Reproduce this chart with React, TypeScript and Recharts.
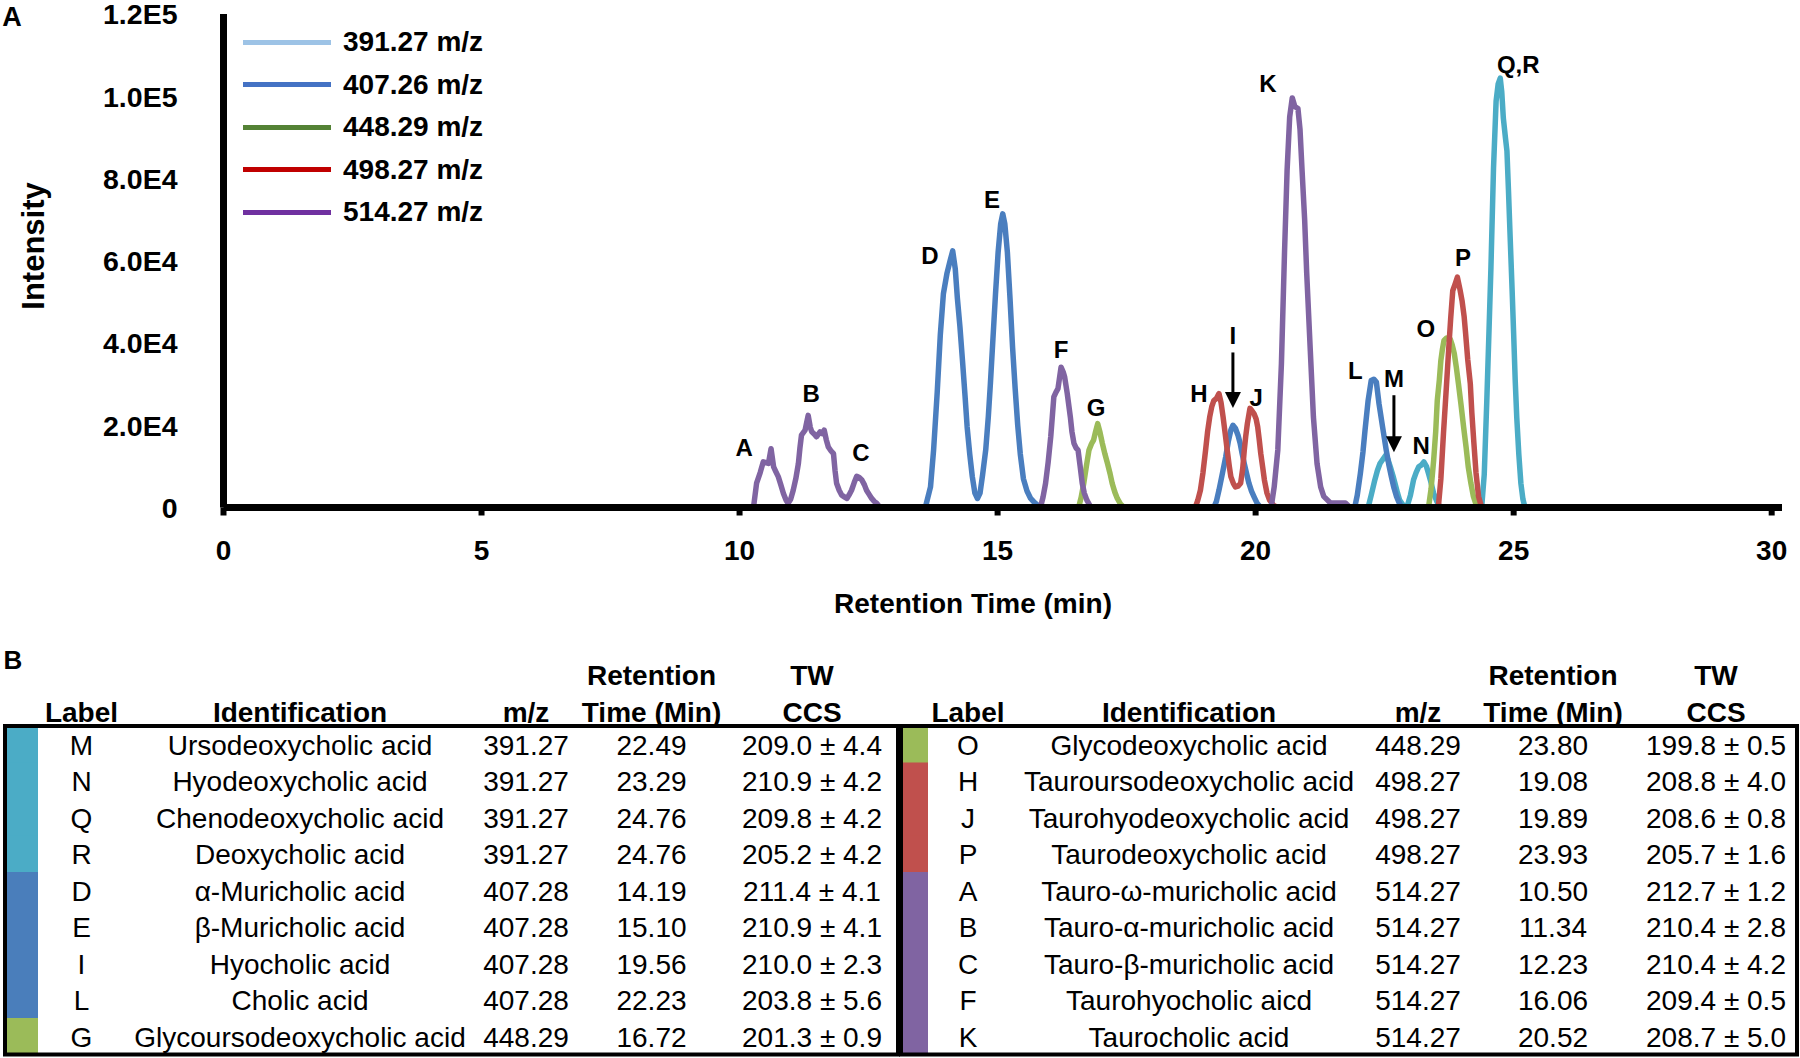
import React from 'react';
import { LineChart, Line, XAxis, YAxis, Legend, ReferenceDot, ReferenceLine } from 'recharts';

const FONT = "'Liberation Sans', Arial, Helvetica, sans-serif";

// ---------- Series meta ----------
const SERIES_NAMES = ['391.27 m/z', '407.26 m/z', '448.29 m/z', '498.27 m/z', '514.27 m/z'];
const LEGEND_COLORS = ['#9DC3E6', '#4472C4', '#548235', '#C00000', '#7030A0'];
const TRACE_COLORS = ['#4BACC6', '#4A7EBF', '#9BBB59', '#C0504D', '#8064A2'];

// ---------- Axis ticks ----------
const X_TICKS = [0, 5, 10, 15, 20, 25, 30];
const Y_TICKS = [0, 20000, 40000, 60000, 80000, 100000, 120000];
const Y_TICK_LABELS = ['0', '2.0E4', '4.0E4', '6.0E4', '8.0E4', '1.0E5', '1.2E5'];

// ---------- Traces: [retention time (min), intensity]; null = gap ----------
const TRACE_391: [number, number | null][] = [
  [22.18, 0], [22.24, 3000], [22.31, 6700], [22.36, 9000], [22.41, 10700], [22.47, 11800], [22.52, 12700],
  [22.56, 11800], [22.61, 9900], [22.66, 7800], [22.70, 5900], [22.75, 3500], [22.79, 1800], [22.89, 0],
  [22.91, null],
  [22.93, 0], [23.00, 3000], [23.06, 6700], [23.11, 8500], [23.16, 9900], [23.21, 10300], [23.26, 11100],
  [23.31, 10000], [23.35, 8300], [23.40, 6000], [23.45, 3400], [23.51, 1500], [23.58, 0],
  [24.0, null],
  [24.38, 0], [24.43, 8000], [24.48, 26000], [24.52, 42000], [24.56, 58400], [24.61, 82600], [24.66, 98800],
  [24.70, 103000], [24.74, 104400], [24.77, 101000], [24.80, 94700], [24.84, 90000], [24.87, 86700],
  [24.90, 77000], [24.93, 66500], [24.97, 53000], [25.00, 42200], [25.03, 31000], [25.06, 22000],
  [25.10, 13000], [25.14, 5900], [25.18, 2000], [25.22, 0],
];

const TRACE_407: [number, number | null][] = [
  [13.60, 0], [13.70, 5000], [13.76, 14000], [13.83, 28000], [13.89, 42000], [13.95, 52000], [14.02, 57000],
  [14.08, 60000], [14.13, 62400], [14.18, 58000], [14.22, 51000], [14.27, 44000], [14.32, 35700],
  [14.37, 27000], [14.41, 19600], [14.46, 13000], [14.51, 7500], [14.56, 3500], [14.61, 2200], [14.66, 3500],
  [14.71, 8000], [14.77, 14000], [14.82, 22000], [14.86, 30000], [14.91, 41000], [14.96, 52000],
  [15.01, 62000], [15.06, 69000], [15.10, 71400], [15.14, 69000], [15.19, 62000], [15.24, 51000],
  [15.29, 39000], [15.34, 29000], [15.39, 20000], [15.44, 13000], [15.50, 7000], [15.57, 4000],
  [15.64, 2200], [15.70, 1400], [15.83, 0],
  [16.5, null],
  [19.19, 0], [19.24, 1500], [19.29, 4200], [19.36, 8500], [19.42, 12300], [19.47, 16000], [19.52, 18800],
  [19.56, 20000], [19.61, 19200], [19.66, 17500], [19.70, 15600], [19.74, 13000], [19.78, 10700],
  [19.83, 8000], [19.87, 5900], [19.92, 4000], [19.97, 2600], [20.03, 1000], [20.10, 0],
  [21.0, null],
  [21.92, 0], [21.97, 3000], [22.03, 8300], [22.08, 13500], [22.12, 18800], [22.18, 26000], [22.24, 30900],
  [22.29, 31200], [22.34, 30500], [22.39, 25300], [22.46, 19600], [22.53, 14000], [22.58, 10500],
  [22.63, 7500], [22.68, 4800], [22.73, 2700], [22.78, 1200], [22.83, 0],
];

const TRACE_448: [number, number | null][] = [
  [16.57, 0], [16.62, 2500], [16.67, 5900], [16.72, 10000], [16.77, 13900], [16.82, 15500], [16.86, 16400],
  [16.90, 18500], [16.94, 20400], [16.98, 18500], [17.03, 15600], [17.08, 13000], [17.13, 10700],
  [17.18, 8200], [17.22, 5900], [17.27, 3800], [17.32, 2200], [17.38, 900], [17.45, 0],
  [20.0, null],
  [23.35, 0], [23.40, 4500], [23.45, 11500], [23.49, 18500], [23.52, 26000], [23.56, 31000], [23.59, 35800],
  [23.62, 38500], [23.65, 40600], [23.70, 41200], [23.74, 41000], [23.77, 41000], [23.81, 39500],
  [23.85, 37400], [23.89, 34000], [23.93, 30100], [23.98, 25000], [24.03, 19600], [24.08, 14500],
  [24.12, 9900], [24.17, 6000], [24.22, 2700], [24.29, 0],
];

const TRACE_498: [number, number | null][] = [
  [18.83, 0], [18.88, 1800], [18.93, 4200], [18.98, 8500], [19.03, 13900], [19.07, 18500], [19.11, 22000],
  [19.15, 24500], [19.19, 26000], [19.24, 26500], [19.29, 27700], [19.33, 25500], [19.37, 22000],
  [19.41, 18000], [19.45, 13900], [19.49, 10000], [19.52, 7500], [19.57, 5800], [19.61, 5000], [19.66, 5200],
  [19.71, 5900], [19.75, 9500], [19.78, 13900], [19.81, 17500], [19.84, 20400], [19.89, 24100],
  [19.93, 23500], [19.97, 22800], [20.01, 21500], [20.04, 19600], [20.07, 16500], [20.10, 13100],
  [20.14, 9500], [20.17, 6700], [20.22, 3500], [20.27, 1800], [20.35, 500], [20.43, 0],
  [22.0, null],
  [23.54, 0], [23.59, 7000], [23.64, 18000], [23.69, 28000], [23.74, 38200], [23.78, 46000], [23.82, 52700],
  [23.87, 54500], [23.91, 56000], [23.96, 53000], [24.00, 50300], [24.04, 46500], [24.07, 42200],
  [24.11, 36000], [24.16, 30100], [24.19, 23000], [24.23, 15600], [24.27, 8500], [24.32, 2700], [24.38, 0],
];

const TRACE_514: [number, number | null][] = [
  [10.27, 0], [10.33, 5900], [10.40, 8500], [10.46, 11100], [10.51, 10900], [10.56, 10700], [10.61, 14300],
  [10.66, 9900], [10.70, 8800], [10.75, 7500], [10.80, 5500], [10.85, 3400], [10.90, 1800], [10.94, 1000],
  [10.99, 2000], [11.04, 4200], [11.09, 7000], [11.14, 10700], [11.17, 14500], [11.20, 17600],
  [11.27, 18800], [11.33, 22400], [11.37, 19500], [11.40, 18400], [11.45, 17800], [11.49, 17200],
  [11.56, 18400], [11.60, 18000], [11.64, 18800], [11.68, 16500], [11.72, 14700], [11.77, 13800],
  [11.82, 13100], [11.85, 9000], [11.88, 5900], [11.93, 4200], [11.98, 3000], [12.03, 2600], [12.08, 2200],
  [12.12, 3000], [12.17, 4200], [12.22, 6000], [12.27, 7600], [12.32, 7300], [12.37, 6700], [12.42, 5500],
  [12.46, 4200], [12.51, 3200], [12.56, 2200], [12.61, 1500], [12.66, 1000], [12.72, 0],
  [14.0, null],
  [15.83, 0], [15.88, 2500], [15.93, 5900], [15.98, 11000], [16.03, 17200], [16.06, 22000], [16.09, 26900],
  [16.13, 28000], [16.17, 28900], [16.20, 31500], [16.23, 34100], [16.27, 33000], [16.30, 31700],
  [16.35, 27700], [16.41, 22000], [16.44, 18500], [16.48, 15600], [16.52, 14500], [16.56, 13900],
  [16.60, 10000], [16.64, 5900], [16.68, 3500], [16.73, 1800], [16.81, 0],
  [18.0, null],
  [20.30, 0], [20.36, 5000], [20.43, 14000], [20.50, 35000], [20.56, 62000], [20.61, 82000], [20.66, 95000],
  [20.71, 99600], [20.76, 97500], [20.82, 97000], [20.86, 92000], [20.90, 82000], [20.95, 70000],
  [20.99, 57000], [21.06, 38000], [21.12, 22000], [21.19, 10700], [21.26, 5000], [21.32, 2700],
  [21.45, 1100], [21.74, 1100], [21.83, 0],
];

const TRACES = [TRACE_391, TRACE_407, TRACE_448, TRACE_498, TRACE_514];

// ---------- Peak annotations (data units) ----------
const PEAK_LABELS = ['A', 'B', 'C', 'D', 'E', 'F', 'G', 'H', 'I', 'J', 'K', 'L', 'M', 'N', 'O', 'P', 'Q,R'];
const PEAK_LABEL_T = [10.09, 11.39, 12.35, 13.69, 14.89, 16.23, 16.91, 18.90, 19.56, 20.01, 20.24, 21.93, 22.68, 23.21, 23.30, 24.02, 25.09];
const PEAK_LABEL_I = [14670, 27760, 13450, 61200, 75030, 38420, 24360, 27760, 41820, 26790, 103150, 33330, 31390, 15150, 43520, 60730, 107760];
const ARROW_T = [19.56, 22.68];
const ARROW_FROM = [37700, 27300];
const ARROW_TO = [24200, 13450];

// ---------- Table ----------
const TABLE_HEAD_1 = ['', '', '', 'Retention', 'TW'];
const TABLE_HEAD_2 = ['Label', 'Identification', 'm/z', 'Time (Min)', 'CCS'];
const TABLE_COLORS = ['#4BACC6', '#4A7EBB', '#9BBB59', '#C0504D', '#8064A2'];

const LEFT_LABELS = ['M', 'N', 'Q', 'R', 'D', 'E', 'I', 'L', 'G'];
const LEFT_NAMES = ['Ursodeoxycholic acid', 'Hyodeoxycholic acid', 'Chenodeoxycholic acid', 'Deoxycholic acid', 'α-Muricholic acid', 'β-Muricholic acid', 'Hyocholic acid', 'Cholic acid', 'Glycoursodeoxycholic acid'];
const LEFT_MZ = ['391.27', '391.27', '391.27', '391.27', '407.28', '407.28', '407.28', '407.28', '448.29'];
const LEFT_RT = ['22.49', '23.29', '24.76', '24.76', '14.19', '15.10', '19.56', '22.23', '16.72'];
const LEFT_CCS = ['209.0 ± 4.4', '210.9 ± 4.2', '209.8 ± 4.2', '205.2 ± 4.2', '211.4 ± 4.1', '210.9 ± 4.1', '210.0 ± 2.3', '203.8 ± 5.6', '201.3 ± 0.9'];
const LEFT_GROUP = [0, 0, 0, 0, 1, 1, 1, 1, 2];

const RIGHT_LABELS = ['O', 'H', 'J', 'P', 'A', 'B', 'C', 'F', 'K'];
const RIGHT_NAMES = ['Glycodeoxycholic acid', 'Tauroursodeoxycholic acid', 'Taurohyodeoxycholic acid', 'Taurodeoxycholic acid', 'Tauro-ω-muricholic acid', 'Tauro-α-muricholic acid', 'Tauro-β-muricholic acid', 'Taurohyocholic aicd', 'Taurocholic acid'];
const RIGHT_MZ = ['448.29', '498.27', '498.27', '498.27', '514.27', '514.27', '514.27', '514.27', '514.27'];
const RIGHT_RT = ['23.80', '19.08', '19.89', '23.93', '10.50', '11.34', '12.23', '16.06', '20.52'];
const RIGHT_CCS = ['199.8 ± 0.5', '208.8 ± 4.0', '208.6 ± 0.8', '205.7 ± 1.6', '212.7 ± 1.2', '210.4 ± 2.8', '210.4 ± 4.2', '209.4 ± 0.5', '208.7 ± 5.0'];
const RIGHT_GROUP = [2, 3, 3, 3, 4, 4, 4, 4, 4];

// ---------- Components ----------
const LegendBox = () => (
  <div style={{ fontFamily: FONT }}>
    {SERIES_NAMES.map((n, i) => (
      <div key={n} style={{ display: 'flex', alignItems: 'center', height: 42.5 }}>
        <div style={{ width: 88, height: 5, background: LEGEND_COLORS[i], marginRight: 12 }} />
        <span style={{ fontSize: 28, fontWeight: 700, color: '#000', lineHeight: '28px', whiteSpace: 'nowrap' }}>{n}</span>
      </div>
    ))}
  </div>
);

const PeakText = (text: string) => (props: any) => (
  <text x={props.cx} y={props.cy} dy="0.36em" textAnchor="middle" fontSize={24} fontWeight={700} fill="#000" fontFamily={FONT}>
    {text}
  </text>
);

// y tick label drawn at the library-computed position of (x=0, y=value), right-aligned left of the tick mark
const YTickText = (text: string) => (props: any) => (
  <text x={props.cx - 46} y={props.cy} dy="0.36em" textAnchor="end" fontSize={28.5} fontWeight={700} fill="#000" fontFamily={FONT}>
    {text}
  </text>
);

const ArrowHead = (props: any) => {
  const { cx, cy } = props;
  return <polygon points={`${cx - 8},${cy - 16} ${cx + 8},${cy - 16} ${cx},${cy}`} fill="#000" />;
};

type TableSpec = {
  x: number; w: number; stripeX: number; stripeW: number; cols: number[];
  labels: string[]; names: string[]; mz: string[]; rt: string[]; ccs: string[]; group: number[];
};

const TABLE_TOP = 726;
const ROW_H = 36.5;

const TableBlock = ({ spec }: { spec: TableSpec }) => {
  const rows = spec.labels.map((l, i) => [l, spec.names[i], spec.mz[i], spec.rt[i], spec.ccs[i]]);
  return (
    <g fontFamily={FONT}>
      {TABLE_HEAD_1.map((h, j) => h ? (
        <text key={'h1' + j} x={spec.cols[j]} y={685} textAnchor="middle" fontSize={28} fontWeight={700}>{h}</text>
      ) : null)}
      {TABLE_HEAD_2.map((h, j) => (
        <text key={'h2' + j} x={spec.cols[j]} y={722} textAnchor="middle" fontSize={28} fontWeight={700}>{h}</text>
      ))}
      {spec.group.map((g, i) => (
        <rect key={'s' + i} x={spec.stripeX} y={TABLE_TOP + i * ROW_H} width={spec.stripeW} height={ROW_H + 0.5} fill={TABLE_COLORS[g]} />
      ))}
      {rows.map((r, i) => r.map((c, j) => (
        <text key={'c' + i + '-' + j} x={spec.cols[j]} y={TABLE_TOP + ROW_H * (i + 0.5) + 10.5} textAnchor="middle" fontSize={28} fill="#000">{c}</text>
      )))}
      <rect x={spec.x} y={TABLE_TOP} width={spec.w} height={ROW_H * 9} fill="none" stroke="#000" strokeWidth={4} />
    </g>
  );
};

const LEFT_SPEC: TableSpec = {
  x: 5, w: 893, stripeX: 7, stripeW: 31, cols: [81.5, 300, 526, 651.5, 812],
  labels: LEFT_LABELS, names: LEFT_NAMES, mz: LEFT_MZ, rt: LEFT_RT, ccs: LEFT_CCS, group: LEFT_GROUP,
};
const RIGHT_SPEC: TableSpec = {
  x: 901, w: 896, stripeX: 903, stripeW: 25, cols: [968, 1189, 1418, 1553, 1716],
  labels: RIGHT_LABELS, names: RIGHT_NAMES, mz: RIGHT_MZ, rt: RIGHT_RT, ccs: RIGHT_CCS, group: RIGHT_GROUP,
};

export default function App() {
  const seriesData = TRACES.map(tr => tr.map(([t, v]) => ({ t, v })));
  return (
    <div style={{ position: 'absolute', left: 0, top: 0, width: 1800, height: 1058, background: '#fff', fontFamily: FONT, overflow: 'hidden' }}>
      <div style={{ position: 'absolute', left: 0, top: 0 }}>
        <LineChart width={1800} height={640} margin={{ top: 14, right: 18, left: 123.5, bottom: 72.5 }}>
          <XAxis
            dataKey="t" type="number" domain={[0, 30.2]} ticks={X_TICKS} interval={0} height={60}
            axisLine={{ stroke: '#000', strokeWidth: 7 }}
            tickLine={{ stroke: '#000', strokeWidth: 6 }} tickSize={8} tickMargin={25}
            tick={{ fill: '#000', fontSize: 28, fontWeight: 700, fontFamily: FONT }}
          />
          <YAxis
            type="number" domain={[0, 120000]} ticks={Y_TICKS} interval={0} width={100}
            axisLine={{ stroke: '#000', strokeWidth: 7 }}
            tickLine={{ stroke: '#000', strokeWidth: 3 }} tickSize={14} tick={false}
          />
          <Legend layout="vertical" align="center" verticalAlign="middle" wrapperStyle={{ left: 243, top: 21, width: 320 }} content={() => <LegendBox />} />
          {seriesData.map((d, i) => (
            <Line
              key={SERIES_NAMES[i]} name={SERIES_NAMES[i]} data={d} dataKey="v" type="linear"
              stroke={TRACE_COLORS[i]} strokeWidth={5.5} dot={false} activeDot={false}
              connectNulls={false} isAnimationActive={false} strokeLinejoin="round"
            />
          ))}
          {Y_TICKS.map((v, i) => (
            <ReferenceDot key={'yt' + v} x={0} y={v} r={1} shape={YTickText(Y_TICK_LABELS[i])} ifOverflow="visible" />
          ))}
          {PEAK_LABELS.map((p, i) => (
            <ReferenceDot key={'pk' + p} x={PEAK_LABEL_T[i]} y={PEAK_LABEL_I[i]} r={1} shape={PeakText(p)} ifOverflow="visible" />
          ))}
          {ARROW_T.map((t, i) => (
            <ReferenceLine key={'al' + i} segment={[{ x: t, y: ARROW_FROM[i] }, { x: t, y: ARROW_TO[i] + 3000 }]} stroke="#000" strokeWidth={3} ifOverflow="visible" />
          ))}
          {ARROW_T.map((t, i) => (
            <ReferenceDot key={'ah' + i} x={t} y={ARROW_TO[i]} r={1} shape={ArrowHead} ifOverflow="visible" />
          ))}
        </LineChart>
      </div>
      <svg width={1800} height={1058} style={{ position: 'absolute', left: 0, top: 0, pointerEvents: 'none' }}>
        <text x={12} y={26} textAnchor="middle" fontSize={27} fontWeight={700} fontFamily={FONT}>A</text>
        <text x={13} y={669} textAnchor="middle" fontSize={26} fontWeight={700} fontFamily={FONT}>B</text>
        <text transform="translate(44,246) rotate(-90)" textAnchor="middle" fontSize={31} fontWeight={700} fontFamily={FONT}>Intensity</text>
        <text x={973} y={613} textAnchor="middle" fontSize={28} fontWeight={700} fontFamily={FONT}>Retention Time (min)</text>
        <TableBlock spec={LEFT_SPEC} />
        <TableBlock spec={RIGHT_SPEC} />
      </svg>
    </div>
  );
}
